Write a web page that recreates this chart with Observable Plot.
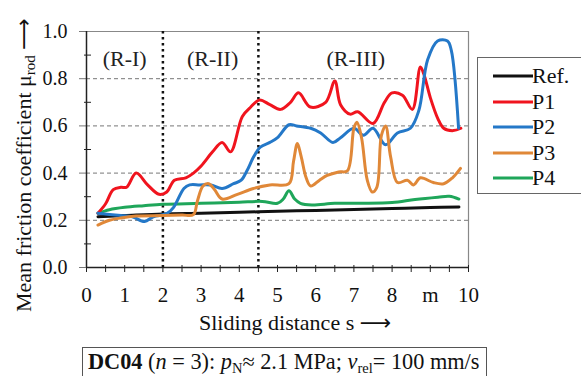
<!DOCTYPE html>
<html><head><meta charset="utf-8">
<script src="https://cdn.jsdelivr.net/npm/d3@7"></script>
<script src="https://cdn.jsdelivr.net/npm/@observablehq/plot@0.6"></script>
<style>
body{margin:0;background:#fff;}
#wrap{position:relative;width:581px;height:376px;overflow:hidden;font-family:"Liberation Serif","Times New Roman",serif;color:#111;}
#chart{position:absolute;left:0;top:0;}
#ylabel{position:absolute;left:13px;top:312px;transform-origin:0 0;transform:rotate(-90deg);white-space:nowrap;font-size:22px;line-height:22px;}
#xlabel{position:absolute;left:199px;top:312px;white-space:nowrap;font-size:22px;line-height:22px;}
.arrow{font-family:"DejaVu Sans",sans-serif;font-size:22px;}
sub{font-size:15px;line-height:0;vertical-align:-4px;}
#legend{position:absolute;left:477px;top:57px;width:130px;height:135px;border:1px solid #666;background:#fff;}
.lrow{position:absolute;left:0;height:26px;white-space:nowrap;font-size:22px;line-height:26px;}
.lrow svg{position:absolute;left:15px;top:11px;}
.lrow span{position:absolute;left:54px;top:0;}
#caption{position:absolute;left:82px;top:347px;width:405px;height:30px;border:1px solid #555;box-sizing:border-box;padding:1px 0 0 5px;font-size:22.3px;line-height:26px;white-space:nowrap;background:#fff;}
#caption sub{font-size:14.5px;vertical-align:-4px;}
</style></head><body>
<div id="wrap">
<div id="chart"></div>
<div id="ylabel">Mean friction coefficient μ<sub>rod</sub> <span class="arrow">⟶</span></div>
<div id="xlabel">Sliding distance s <span class="arrow">⟶</span></div>
<div id="legend"></div>
<div id="caption"><b>DC04</b> (<i>n</i> = 3): <i>p</i><sub>N</sub>≈ 2.1 MPa; <i>v</i><sub>rel</sub>= 100 mm/s</div>
</div>
<script>
// ---- data ----
const seriesNames = ["Ref.", "P1", "P2", "P3", "P4"];
const seriesColors = ["#111111", "#f0141e", "#2478c8", "#e08838", "#1fa65a"];

const refS  = [0.3, 1, 2, 3, 4, 5, 6, 7, 8, 9, 9.75];
const refMu = [0.215, 0.22, 0.227, 0.23, 0.234, 0.238, 0.242, 0.246, 0.25, 0.254, 0.256];

const p1S  = [0.3, 0.5, 0.7, 0.9, 1.05, 1.3, 1.6, 1.9, 2.1, 2.3, 2.6, 2.8, 3.0, 3.3, 3.55, 3.77, 4.08, 4.3, 4.53, 4.8, 5.08, 5.34, 5.55, 5.86, 6.26, 6.5, 6.65, 6.9, 7.1, 7.5, 7.8, 8.0, 8.27, 8.53, 8.74, 8.83, 9.0, 9.2, 9.35, 9.6, 9.8];
const p1Mu = [0.23, 0.27, 0.33, 0.34, 0.34, 0.40, 0.35, 0.31, 0.32, 0.37, 0.38, 0.40, 0.43, 0.49, 0.53, 0.49, 0.64, 0.68, 0.71, 0.69, 0.67, 0.70, 0.74, 0.68, 0.70, 0.79, 0.69, 0.65, 0.66, 0.61, 0.70, 0.74, 0.73, 0.67, 0.85, 0.82, 0.72, 0.63, 0.59, 0.58, 0.59];

const p2S  = [0.3, 0.6, 0.9, 1.2, 1.52, 1.75, 2.1, 2.28, 2.55, 2.7, 2.96, 3.25, 3.55, 3.85, 4.05, 4.2, 4.38, 4.55, 4.8, 5.0, 5.3, 5.5, 5.87, 6.13, 6.45, 6.65, 7.0, 7.25, 7.5, 7.83, 8.14, 8.48, 8.7, 8.93, 9.19, 9.45, 9.55, 9.74];
const p2Mu = [0.23, 0.225, 0.22, 0.215, 0.195, 0.215, 0.228, 0.255, 0.335, 0.35, 0.35, 0.35, 0.335, 0.355, 0.37, 0.41, 0.47, 0.51, 0.53, 0.55, 0.605, 0.60, 0.59, 0.57, 0.53, 0.55, 0.59, 0.56, 0.59, 0.52, 0.57, 0.59, 0.665, 0.88, 0.96, 0.96, 0.92, 0.59];

const p3S  = [0.3, 0.6, 0.9, 1.3, 2.0, 2.5, 2.8, 2.9, 3.05, 3.2, 3.35, 3.55, 3.95, 4.37, 4.8, 5.3, 5.42, 5.52, 5.62, 5.75, 5.87, 6.1, 6.3, 6.6, 6.83, 7.0, 7.08, 7.2, 7.35, 7.48, 7.6, 7.72, 7.83, 7.96, 8.14, 8.4, 8.56, 8.74, 9.08, 9.35, 9.58, 9.79];
const p3Mu = [0.18, 0.2, 0.21, 0.218, 0.22, 0.222, 0.224, 0.28, 0.345, 0.355, 0.33, 0.29, 0.31, 0.335, 0.35, 0.355, 0.45, 0.525, 0.47, 0.38, 0.345, 0.37, 0.39, 0.405, 0.41, 0.59, 0.615, 0.55, 0.37, 0.32, 0.34, 0.56, 0.6, 0.47, 0.36, 0.37, 0.35, 0.38, 0.36, 0.355, 0.38, 0.42];

const p4S  = [0.3, 0.6, 1.0, 1.5, 2.0, 3.0, 4.0, 4.6, 5.0, 5.15, 5.3, 5.45, 5.6, 5.9, 6.5, 7.2, 8.0, 8.6, 9.2, 9.5, 9.75];
const p4Mu = [0.23, 0.245, 0.255, 0.262, 0.268, 0.272, 0.277, 0.28, 0.272, 0.29, 0.325, 0.29, 0.272, 0.265, 0.272, 0.272, 0.275, 0.288, 0.298, 0.302, 0.29];

const yMajor = [0, 0.2, 0.4, 0.6, 0.8, 1.0];
const yMinor = [0.1, 0.3, 0.5, 0.7, 0.9];
const yGrid = [0.2, 0.4, 0.6, 0.8];
const xLabels = [0, 1, 2, 3, 4, 5, 6, 7, 8, 9, 10];
const xTickMarks = [0, 0.5, 1, 1.5, 2, 2.5, 3, 3.5, 4, 4.5, 5, 5.5, 6, 6.5, 7, 7.5, 8, 8.5, 9, 9.5, 10];
const unitLabel = "m"; // replaces the 9 label
const boundaries = [2, 4.5];
const regionLabels = ["(R-I)", "(R-II)", "(R-III)"];
const regionX = [1.0, 3.3, 7.05];
const regionLabelY = 0.885;

// ---- table ----
const series = [
  {name: "Ref.", s: refS, mu: refMu},
  {name: "P4", s: p4S, mu: p4Mu},
  {name: "P1", s: p1S, mu: p1Mu},
  {name: "P2", s: p2S, mu: p2Mu},
  {name: "P3", s: p3S, mu: p3Mu}
];
const rows = series.flatMap(ser => ser.s.map((s, i) => ({series: ser.name, s, mu: ser.mu[i]})));

const chart = Plot.plot({
  width: 581, height: 340,
  marginLeft: 86, marginRight: 113, marginTop: 31, marginBottom: 73,
  x: {domain: [0, 10], axis: null, label: null},
  y: {domain: [0, 1], axis: null, label: null},
  color: {domain: seriesNames, range: seriesColors},
  style: {fontFamily: '"Liberation Serif","Times New Roman",serif', fontSize: "20px", color: "#111", background: "transparent", overflow: "visible"},
  marks: [
    Plot.ruleY(yGrid, {stroke: "#777", strokeDasharray: "4,3", strokeWidth: 1}),
    Plot.ruleY([1], {stroke: "#888", strokeWidth: 1.2}),
    Plot.ruleX([10], {stroke: "#888", strokeWidth: 1.2}),
    Plot.axisY(yMajor, {tickSize: 7, stroke: "#777", fill: "none", label: null}),
    Plot.axisY(yMinor, {tickSize: 7, dx: 5, stroke: "#222", fill: "none", label: null}),
    Plot.axisY(yMajor, {tickSize: 0, tickPadding: 19, tickFormat: d3.format(".1f"), fontSize: 20, label: null}),
    Plot.axisX(xTickMarks, {tickSize: 7, dy: -2, stroke: "#222", fill: "none", label: null}),
    Plot.axisX(xLabels, {tickSize: 0, tickPadding: 20, tickFormat: d => d === 9 ? unitLabel : String(d), fontSize: 21, label: null}),
    Plot.ruleX(boundaries, {stroke: "#111", strokeWidth: 2.5, strokeDasharray: "2.5,3.5"}),
    Plot.ruleX([0], {stroke: "#222", strokeWidth: 1.5}),
    Plot.ruleY([0], {stroke: "#222", strokeWidth: 1.5}),
    Plot.text(regionLabels, {x: (d, i) => regionX[i], y: () => regionLabelY, text: d => d, fontSize: 22, fill: "#222"}),
    Plot.line(rows, {x: "s", y: "mu", z: "series", stroke: "series", strokeWidth: 3, curve: "catmull-rom"})
  ]
});
document.getElementById("chart").appendChild(chart);

// ---- legend ----
const legend = document.getElementById("legend");
seriesNames.forEach((name, i) => {
  const row = document.createElement("div");
  row.className = "lrow";
  row.style.top = (5 + i * 25.6) + "px";
  row.innerHTML = `<svg width="40" height="4"><line x1="0" y1="2" x2="40" y2="2" stroke="${seriesColors[i]}" stroke-width="3.2"/></svg><span>${name}</span>`;
  legend.appendChild(row);
});
</script>
</body></html>
